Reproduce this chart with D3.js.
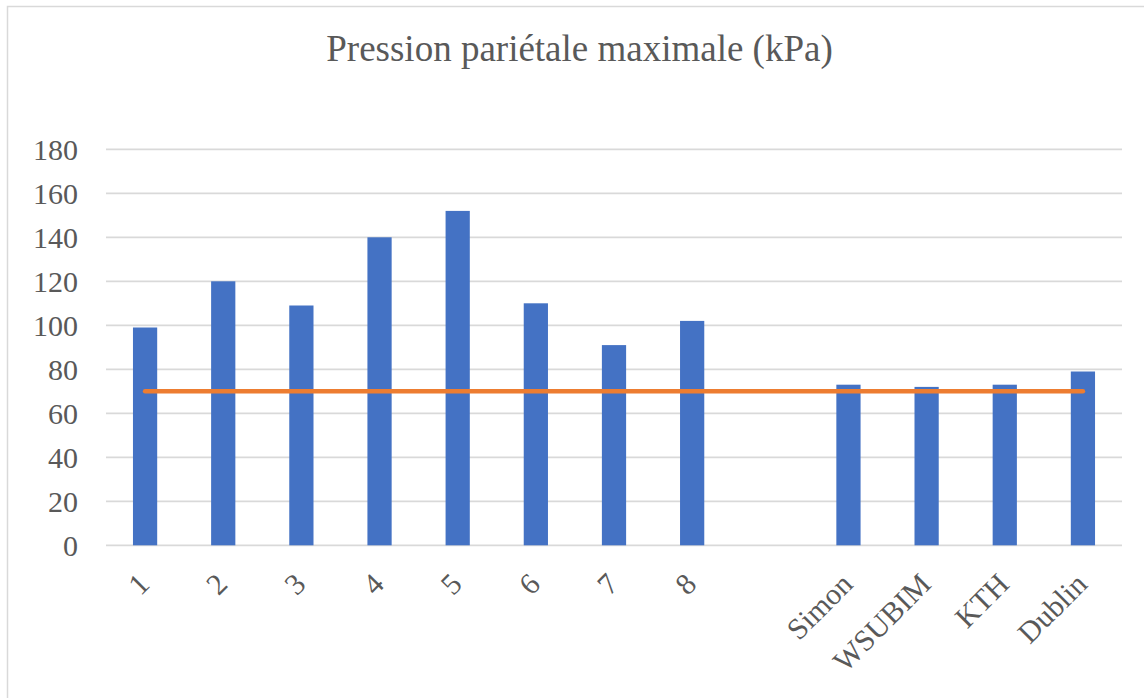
<!DOCTYPE html>
<html>
<head>
<meta charset="utf-8">
<script src="https://cdn.jsdelivr.net/npm/d3@7"></script>
</head>
<body style="margin:0;padding:0;background:#fff">
<svg id="chart" width="1144" height="698" style="display:block"></svg>
<script>
const title = "Pression pariétale maximale (kPa)";
const categories = ["1", "2", "3", "4", "5", "6", "7", "8", " ", "Simon", "WSUBIM", "KTH", "Dublin"];
const pressures = [99, 120, 109, 140, 152, 110, 91, 102, null, 73, 72, 73, 79];
const reference = [70, 70, 70, 70, 70, 70, 70, 70, 70, 70, 70, 70, 70];
const yTicks = [0, 20, 40, 60, 80, 100, 120, 140, 160, 180];

const FONT = "'Liberation Serif', 'Times New Roman', Tinos, serif";
const TEXT_COLOR = "#595959";

const svg = d3.select("#chart");

// outer chart border
svg.append("rect")
  .attr("x", 7.5).attr("y", 6.5)
  .attr("width", 1150).attr("height", 720)
  .attr("fill", "#fff")
  .attr("stroke", "#d9d9d9").attr("stroke-width", 1.5);

const x = d3.scaleBand()
  .domain(categories)
  .range([106, 1122])
  .paddingInner(0.69)
  .paddingOuter(0.345);

const y = d3.scaleLinear().domain([0, 180]).range([545.3, 149.3]);

// gridlines
svg.append("g")
  .selectAll("line")
  .data(yTicks)
  .join("line")
  .attr("x1", 106).attr("x2", 1122)
  .attr("y1", d => y(d)).attr("y2", d => y(d))
  .attr("stroke", "#d9d9d9").attr("stroke-width", 1.75);

// y axis labels
const yAxis = d3.axisLeft(y).tickValues(yTicks).tickSize(0).tickPadding(0);
const gy = svg.append("g").attr("transform", "translate(78,0)").call(yAxis);
gy.select(".domain").remove();
gy.selectAll("text")
  .style("font-family", FONT)
  .style("font-size", "30px")
  .style("fill", TEXT_COLOR)
  .attr("dy", "0.34em");

// bars
const data = categories.map((c, i) => ({ c, v: pressures[i], r: reference[i] }));
svg.append("g")
  .selectAll("rect")
  .data(data.filter(d => d.v != null))
  .join("rect")
  .attr("x", d => x(d.c))
  .attr("width", x.bandwidth())
  .attr("y", d => y(d.v))
  .attr("height", d => y(0) - y(d.v))
  .attr("fill", "#4472c4");

// reference line
const line = d3.line()
  .x(d => x(d.c) + x.bandwidth() / 2)
  .y(d => y(d.r));
svg.append("path")
  .datum(data)
  .attr("d", line)
  .attr("fill", "none")
  .attr("stroke", "#ed7d31")
  .attr("stroke-width", 4.5)
  .attr("stroke-linecap", "round")
  .attr("stroke-linejoin", "round");

// x axis labels
const xAxis = d3.axisBottom(x).tickSize(0).tickPadding(0);
const gx = svg.append("g").call(xAxis);
gx.select(".domain").remove();
gx.selectAll(".tick").attr("transform", null);
gx.selectAll(".tick text")
  .style("font-family", FONT)
  .style("font-size", "30px")
  .style("fill", TEXT_COLOR)
  .attr("text-anchor", "end")
  .attr("x", null).attr("y", null).attr("dy", null)
  .attr("transform", d => `translate(${x(d) + x.bandwidth() / 2 + 6},586) rotate(-45)`);

// title
svg.append("text")
  .attr("x", 579.5).attr("y", 61)
  .attr("text-anchor", "middle")
  .style("font-family", FONT)
  .style("font-size", "37px")
  .style("fill", TEXT_COLOR)
  .text(title);
</script>
</body>
</html>
